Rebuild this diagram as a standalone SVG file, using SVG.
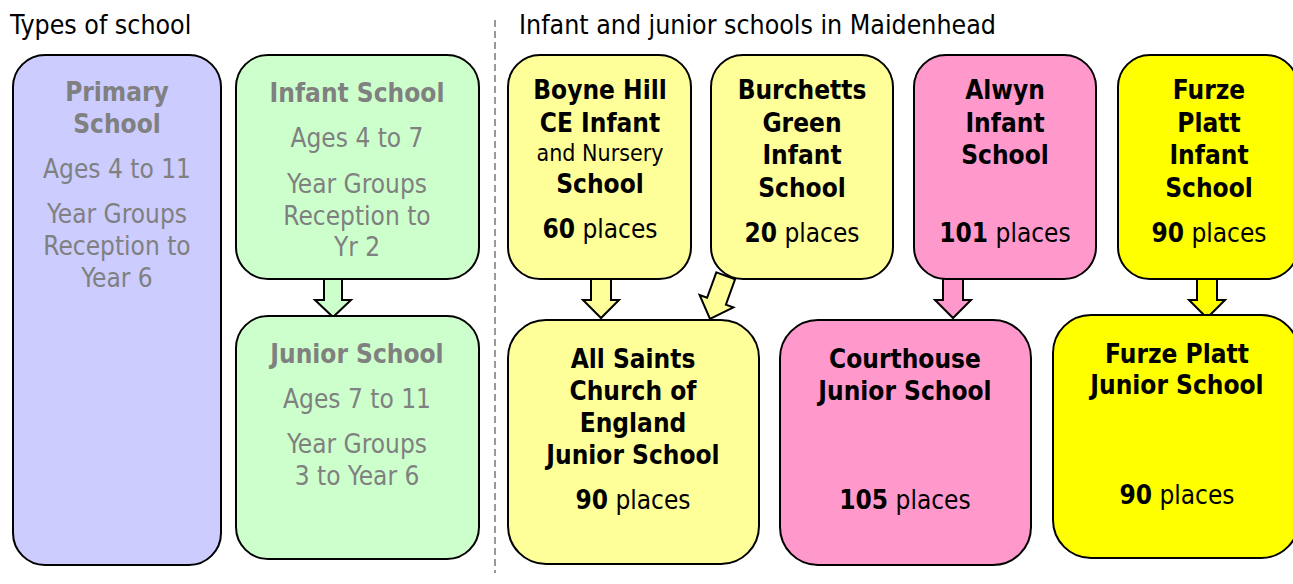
<svg xmlns="http://www.w3.org/2000/svg" width="1293" height="584" viewBox="0 0 1293 584">
<style>
text{font-family:"DejaVu Sans Condensed","Liberation Sans",sans-serif;font-size:26px;text-anchor:middle;fill:#000}
.t{text-anchor:start;font-size:26.5px}
.g{fill:#808080}
.b{font-weight:bold}
.sm{font-size:23px}
.box{stroke:#000;stroke-width:2}
.arr{stroke:#000;stroke-width:2;stroke-linejoin:miter}
.blue{fill:#ccccff}.green{fill:#ccffcc}.pale{fill:#ffff99}.pink{fill:#ff99cc}.yel{fill:#ffff00}
</style>
<rect width="1293" height="584" fill="#fff"/>
<text class="t" x="10" y="34">Types of school</text>
<text class="t" x="519" y="34">Infant and junior schools in Maidenhead</text>
<line x1="495" y1="20" x2="495" y2="573" stroke="#999" stroke-width="2" stroke-dasharray="7 4"/>
<g id="connectors">
<polygon class="arr green" points="324,276 342,276 342,300 351,300 333,317 315,300 324,300"/>
<polygon class="arr pale" points="591,276 611,276 611,300 619,300 601,318 583,300 591,300"/>
<polygon class="arr pale" transform="translate(710,319) rotate(20)" points="-10,-46 10,-46 10,-19 18,-19 0,0 -18,-19 -10,-19"/>
<polygon class="arr pink" points="943,276 963,276 963,300 971,300 953,318 935,300 943,300"/>
<polygon class="arr yel" points="1197,276 1217,276 1217,300 1225,300 1207,318 1189,300 1197,300"/>
</g>
<g id="primary">
<rect class="box blue" x="13" y="55" width="208" height="510" rx="32"/>
<text class="g b" x="117" y="101">Primary</text>
<text class="g b" x="117" y="133">School</text>
<text class="g" x="117" y="178">Ages 4 to 11</text>
<text class="g" x="117" y="223">Year Groups</text>
<text class="g" x="117" y="255">Reception to</text>
<text class="g" x="117" y="287">Year 6</text>
</g>
<g id="infant">
<rect class="box green" x="236" y="55" width="243" height="224" rx="32"/>
<text class="g b" x="357" y="102">Infant School</text>
<text class="g" x="357" y="147">Ages 4 to 7</text>
<text class="g" x="357" y="193">Year Groups</text>
<text class="g" x="357" y="225">Reception to</text>
<text class="g" x="357" y="256">Yr 2</text>
</g>
<g id="junior">
<rect class="box green" x="236" y="316" width="243" height="243" rx="32"/>
<text class="g b" x="357" y="363">Junior School</text>
<text class="g" x="357" y="408">Ages 7 to 11</text>
<text class="g" x="357" y="453">Year Groups</text>
<text class="g" x="357" y="485">3 to Year 6</text>
</g>
<g id="boyne">
<rect class="box pale" x="508" y="55" width="183" height="224" rx="32"/>
<text class="b" x="600" y="99">Boyne Hill</text>
<text class="b" x="600" y="132">CE Infant</text>
<text class="sm" x="600" y="161">and Nursery</text>
<text class="b" x="600" y="193">School</text>
<text x="600" y="238"><tspan class="b">60</tspan> places</text>
</g>
<g id="burchetts">
<rect class="box pale" x="711" y="55" width="182" height="224" rx="32"/>
<text class="b" x="802" y="99">Burchetts</text>
<text class="b" x="802" y="132">Green</text>
<text class="b" x="802" y="164">Infant</text>
<text class="b" x="802" y="197">School</text>
<text x="802" y="242"><tspan class="b">20</tspan> places</text>
</g>
<g id="alwyn">
<rect class="box pink" x="914" y="55" width="182" height="224" rx="32"/>
<text class="b" x="1005" y="99">Alwyn</text>
<text class="b" x="1005" y="132">Infant</text>
<text class="b" x="1005" y="164">School</text>
<text x="1005" y="242"><tspan class="b">101</tspan> places</text>
</g>
<g id="furze-infant">
<rect class="box yel" x="1118" y="55" width="180" height="224" rx="32"/>
<text class="b" x="1209" y="99">Furze</text>
<text class="b" x="1209" y="132">Platt</text>
<text class="b" x="1209" y="164">Infant</text>
<text class="b" x="1209" y="197">School</text>
<text x="1209" y="242"><tspan class="b">90</tspan> places</text>
</g>
<g id="allsaints">
<rect class="box pale" x="508" y="320" width="251" height="244" rx="38"/>
<text class="b" x="633" y="368">All Saints</text>
<text class="b" x="633" y="400">Church of</text>
<text class="b" x="633" y="432">England</text>
<text class="b" x="633" y="464">Junior School</text>
<text x="633" y="509"><tspan class="b">90</tspan> places</text>
</g>
<g id="courthouse">
<rect class="box pink" x="780" y="320" width="251" height="245" rx="38"/>
<text class="b" x="905" y="368">Courthouse</text>
<text class="b" x="905" y="400">Junior School</text>
<text x="905" y="509"><tspan class="b">105</tspan> places</text>
</g>
<g id="furze-junior">
<rect class="box yel" x="1053" y="315" width="246" height="243" rx="38"/>
<text class="b" x="1177" y="363">Furze Platt</text>
<text class="b" x="1177" y="394">Junior School</text>
<text x="1177" y="504"><tspan class="b">90</tspan> places</text>
</g>
</svg>
